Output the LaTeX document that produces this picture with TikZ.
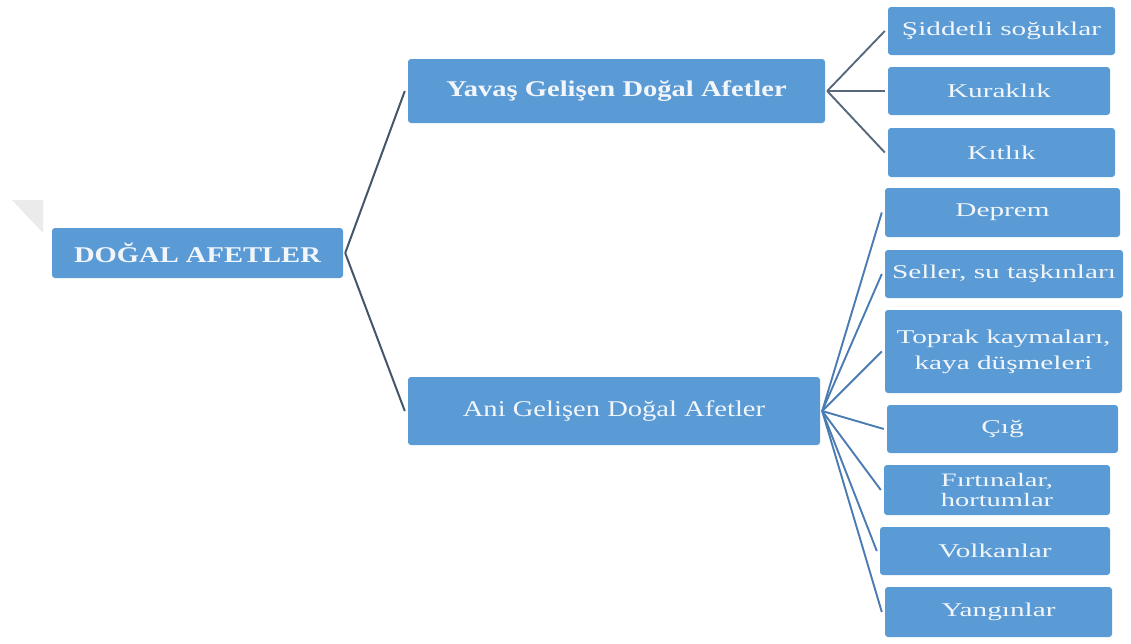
\documentclass[tikz,border=0pt]{standalone}
\usepackage{fontspec}
\setmainfont{Liberation Serif}
\newfontfamily\bigf[FakeStretch=1.27]{Liberation Serif}
\newfontfamily\smallf[FakeStretch=1.5]{Liberation Serif}
\definecolor{boxblue}{HTML}{5B9BD5}
\definecolor{boxtext}{HTML}{F2F6FA}
\definecolor{slate}{HTML}{44566A}
\definecolor{slatelight}{HTML}{56687A}
\definecolor{linkblue}{HTML}{4A7BB2}
\definecolor{cornergrey}{HTML}{EBEBEB}
\tikzset{
  box/.style={fill=boxblue, rounded corners=3pt, text=boxtext, inner sep=0pt, align=center},
  mainbox/.style={box, font=\bigf\fontsize{22.5}{26}\selectfont},
  leafbox/.style={box, font=\smallf\fontsize{19.5}{26}\selectfont},
  rootlink/.style={draw=slate, line width=2pt},
  slowlink/.style={draw=slatelight, line width=1.9pt},
  fastlink/.style={draw=linkblue, line width=1.9pt}
}
\begin{document}
\begin{tikzpicture}[x=1pt, y=-1pt]
\useasboundingbox (0,0) rectangle (1131,643);
\fill[cornergrey] (12,200) -- (43,200) -- (43,233) -- cycle;
% main nodes
\node[mainbox, minimum width=291pt, minimum height=50pt] (root) at (197.5,253) {\bfseries DOĞAL AFETLER};
\node[mainbox, minimum width=417pt, minimum height=64pt] (yav) at (616.5,91) {\bfseries Yavaş Gelişen Doğal Afetler};
\node[mainbox, minimum width=412pt, minimum height=68pt] (ani) at (614,411) {Ani Gelişen Doğal Afetler};
% leaves
\node[leafbox, minimum width=227pt, minimum height=48pt] (sid) at (1001.5,31) {Şiddetli soğuklar};
\node[leafbox, minimum width=222pt, minimum height=48pt] (kur) at (999,91) {Kuraklık};
\node[leafbox, minimum width=227pt, minimum height=49pt] (kit) at (1001.5,152.5) {Kıtlık};
\node[leafbox, minimum width=235pt, minimum height=49pt] (dep) at (1002.5,212.5) {Deprem};
\node[leafbox, minimum width=238pt, minimum height=48pt] (sel) at (1004,274) {Seller, su taşkınları};
\node[leafbox, minimum width=237pt, minimum height=83pt] (top) at (1003.5,351.5) {Toprak kaymaları,\\kaya düşmeleri};
\node[leafbox, minimum width=231pt, minimum height=48pt] (cig) at (1002.5,429) {Çığ};
\node[leafbox, minimum width=226pt, minimum height=50pt, font=\smallf\fontsize{19}{20}\selectfont] (fir) at (997,490) {Fırtınalar,\\hortumlar};
\node[leafbox, minimum width=230pt, minimum height=48pt] (vol) at (995,551) {Volkanlar};
\node[leafbox, minimum width=227pt, minimum height=50pt] (yan) at (998.5,612) {Yangınlar};
% connectors
\draw[rootlink] ([xshift=2pt]root.east) -- ([xshift=-3pt]yav.west);
\draw[rootlink] ([xshift=2pt]root.east) -- ([xshift=-3pt]ani.west);
\foreach \t in {sid,kur,kit}
  \draw[slowlink] ([xshift=2pt]yav.east) -- ([xshift=-3pt]\t.west);
\foreach \t in {dep,sel,top,cig,fir,vol,yan}
  \draw[fastlink] ([xshift=2pt]ani.east) -- ([xshift=-3pt]\t.west);
\end{tikzpicture}
\end{document}
